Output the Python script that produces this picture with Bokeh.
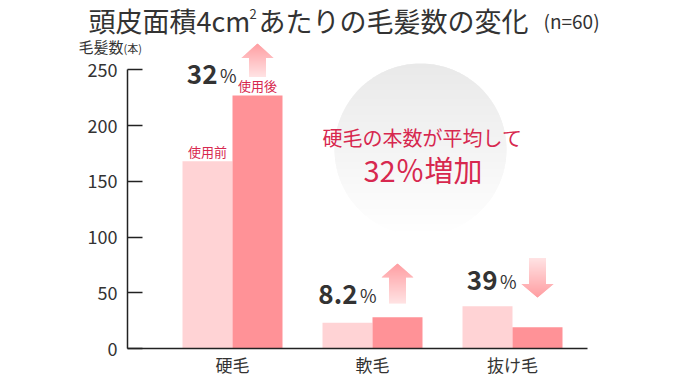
import numpy as np
from bokeh.plotting import figure
from bokeh.models import Range1d, FixedTicker, ColumnDataSource
from bokeh.embed import file_html
from bokeh.resources import INLINE
from bokeh.core.properties import value

# ---------------- data ----------------
categories = ["硬毛", "軟毛", "抜け毛"]
before = [168, 23, 38]
after = [227, 28, 19]
series_names = ["使用前", "使用後"]
change_pct = ["32", "8.2", "39"]
change_dir = ["up", "up", "down"]
yticks = [0, 50, 100, 150, 200, 250]
title_main = "頭皮面積4cm"
title_sup = "2"
title_rest = "あたりの毛髪数の変化"
title_n = "(n=60)"
y_title = "毛髪数"
y_unit = "(本)"
note_line1 = "硬毛の本数が平均して"
note_line2 = "32％増加"

# ---------------- layout ----------------
FONT = "Noto Sans CJK JP"
W, H = 690, 376
L, R = 60, 690           # frame left/right (px)
T, B = 0, 376            # frame top/bottom (px)
AXIS_PX = 127.0          # px of the y axis line
XEND_PX = 587.0          # px where the baseline ends
BASE = 348.0             # px of y = 0
K = (348.0 - 69.25) / 250.0   # px per unit
GX = 140.0               # px per group
G1 = 232.0               # px of first group centre


def dx(px):
    return 1 + (px - G1) / GX


x0, x1 = dx(L), dx(R)
y0 = -(B - BASE) / K
y1 = (BASE - T) / K

C_BEFORE = "#ffd3d5"
C_AFTER = "#ff9297"
C_RED = "#d7284f"
C_TEXT = "#333333"

p = figure(width=W, height=H, x_range=Range1d(x0, x1), y_range=Range1d(y0, y1),
           output_backend="svg", toolbar_location=None, x_axis_location=None,
           title=None, min_border_left=L, min_border_right=W - R,
           min_border_top=T, min_border_bottom=H - B)
p.outline_line_color = None
p.grid.visible = False
p.background_fill_color = "white"
p.border_fill_color = "white"
p.extra_x_ranges = {"px": Range1d(L, R)}
p.extra_y_ranges = {"px": Range1d(B, T)}

ax = p.yaxis[0]
ax.fixed_location = dx(AXIS_PX)
ax.ticker = FixedTicker(ticks=yticks)
ax.bounds = (0, 250)
ax.axis_line_color = "#222222"
ax.axis_line_width = 1.5
ax.major_tick_in = 15
ax.major_tick_out = 0
ax.major_tick_line_color = "#222222"
ax.major_tick_line_width = 1.5
ax.minor_tick_line_color = None
ax.major_label_text_font = FONT
ax.major_label_text_font_size = "18px"
ax.major_label_text_color = C_TEXT
ax.major_label_standoff = 10


def lerp_color(c1, c2, t):
    a = [int(c1[i:i + 2], 16) for i in (1, 3, 5)]
    b = [int(c2[i:i + 2], 16) for i in (1, 3, 5)]
    return "#%02x%02x%02x" % tuple(int(round(a[j] + (b[j] - a[j]) * t)) for j in range(3))


def clip(poly, ylim, keep_ge):
    out = []
    n = len(poly)
    for i in range(n):
        cur, prev = poly[i], poly[i - 1]
        cin = cur[1] >= ylim if keep_ge else cur[1] <= ylim
        pin = prev[1] >= ylim if keep_ge else prev[1] <= ylim
        if cin:
            if not pin:
                t = (ylim - prev[1]) / (cur[1] - prev[1])
                out.append((prev[0] + t * (cur[0] - prev[0]), ylim))
            out.append(cur)
        elif pin:
            t = (ylim - prev[1]) / (cur[1] - prev[1])
            out.append((prev[0] + t * (cur[0] - prev[0]), ylim))
    return out


def gradient_strips(poly, ytop, ybot, ctop, cbot, step=1.0):
    xs, ys, cs = [], [], []
    y = ytop
    while y < ybot:
        a = clip(poly, y, True)
        if a:
            a = clip(a, min(y + step + 0.7, ybot), False)
        if len(a) >= 3:
            t = (y + step / 2 - ytop) / (ybot - ytop)
            xs.append([q[0] for q in a])
            ys.append([q[1] for q in a])
            cs.append(lerp_color(ctop, cbot, min(max(t, 0), 1)))
        y += step
    return xs, ys, cs


# ---------------- background circle ----------------
cx, cy, r = 420.0, 149.0, 86.0
ang = np.linspace(0, 2 * np.pi, 240, endpoint=False)
circ = [(cx + r * np.cos(a), cy + r * np.sin(a)) for a in ang]
xs, ys, cs = gradient_strips(circ, cy - r, cy + r, "#e9e9e9", "#ffffff", step=1.0)
p.patches(xs, ys, fill_color=cs, line_color=None,
          x_range_name="px", y_range_name="px")

# ---------------- bars ----------------
groups = np.arange(1, len(categories) + 1, dtype=float)
bw = 50.0 / GX
src_b = ColumnDataSource(dict(x=groups - bw / 2, top=before))
src_a = ColumnDataSource(dict(x=groups + bw / 2, top=after))
p.vbar(x="x", top="top", width=bw, bottom=0, source=src_b,
       fill_color=C_BEFORE, line_color=None)
p.vbar(x="x", top="top", width=bw, bottom=0, source=src_a,
       fill_color=C_AFTER, line_color=None)
# baseline (x axis line)
p.segment(x0=[dx(AXIS_PX)], y0=[0], x1=[dx(XEND_PX)], y1=[0],
          line_color="#222222", line_width=1.5)

# series labels above the first group's bars
p.text(x=[groups[0] - bw / 2, groups[0] + bw / 2], y=[before[0], after[0]],
       text=series_names, y_offset=-10, text_align="center", text_baseline="middle",
       text_font=value(FONT), text_font_size="13px", text_color=C_RED)

# category labels
p.text(x=groups, y=[0] * len(categories), text=categories, y_offset=16,
       text_align="center", text_baseline="middle",
       text_font=value(FONT), text_font_size="17px", text_color=C_TEXT)

# ---------------- arrows ----------------
arrow_y = [(43.0, 57.5, 76.5), (263.0, 277.0, 303.0), (257.5, 283.5, 297.0)]
HW = 16.0 / GX
SW = 8.5 / GX
for g, d, (ya, yb, yc) in zip(groups, change_dir, arrow_y):
    xc = g + bw / 2
    if d == "up":
        poly = [(xc, ya), (xc + HW, yb), (xc + SW, yb), (xc + SW, yc),
                (xc - SW, yc), (xc - SW, yb), (xc - HW, yb)]
        xs, ys, cs = gradient_strips(poly, ya, yc, "#ff9da1", "#ffe3e4")
    else:
        poly = [(xc - SW, ya), (xc + SW, ya), (xc + SW, yb), (xc + HW, yb),
                (xc, yc), (xc - HW, yb), (xc - SW, yb)]
        xs, ys, cs = gradient_strips(poly, ya, yc, "#ffe3e4", "#ff9da1")
    p.patches(xs, ys, fill_color=cs, line_color=None, y_range_name="px")

# change labels
pct_base = [74.3, 294.3, 280.0]
p.text(x=groups + bw / 2, y=pct_base, text=change_pct, x_offset=-40,
       text_align="right", text_baseline="alphabetic", y_range_name="px",
       text_font=value(FONT), text_font_size="26px", text_font_style="bold",
       text_color=C_TEXT)
p.text(x=groups + bw / 2, y=pct_base, text=["%"] * 3, x_offset=-21,
       text_align="right", text_baseline="alphabetic", y_range_name="px",
       text_font=value(FONT), text_font_size="18px", text_color=C_TEXT)

# note in circle
p.text(x=[422.0], y=[137.0], text=[note_line1], text_align="center",
       text_baseline="middle", x_range_name="px", y_range_name="px",
       text_font=value(FONT), text_font_size="20px", text_color=C_RED)
p.text(x=[422.5], y=[168.0], text=[note_line2], text_align="center",
       text_baseline="middle", x_range_name="px", y_range_name="px",
       text_font=value(FONT), text_font_size="29px", text_color=C_RED)

# ---------------- titles ----------------
def lab(x, y, text, size):
    p.text(x=[x], y=[y], text=[text], x_range_name="px", y_range_name="px",
           text_font=value(FONT), text_font_size=size, text_color=C_TEXT,
           text_align="left", text_baseline="middle")

lab(88, 20, title_main, "27px")
lab(249, 13, title_sup, "13px")
lab(258, 20, title_rest, "27px")
lab(543, 20, title_n, "19px")
lab(78, 46, y_title, "15px")
lab(123, 47, y_unit, "11px")

open("out.html", "w").write(file_html(p, INLINE))
